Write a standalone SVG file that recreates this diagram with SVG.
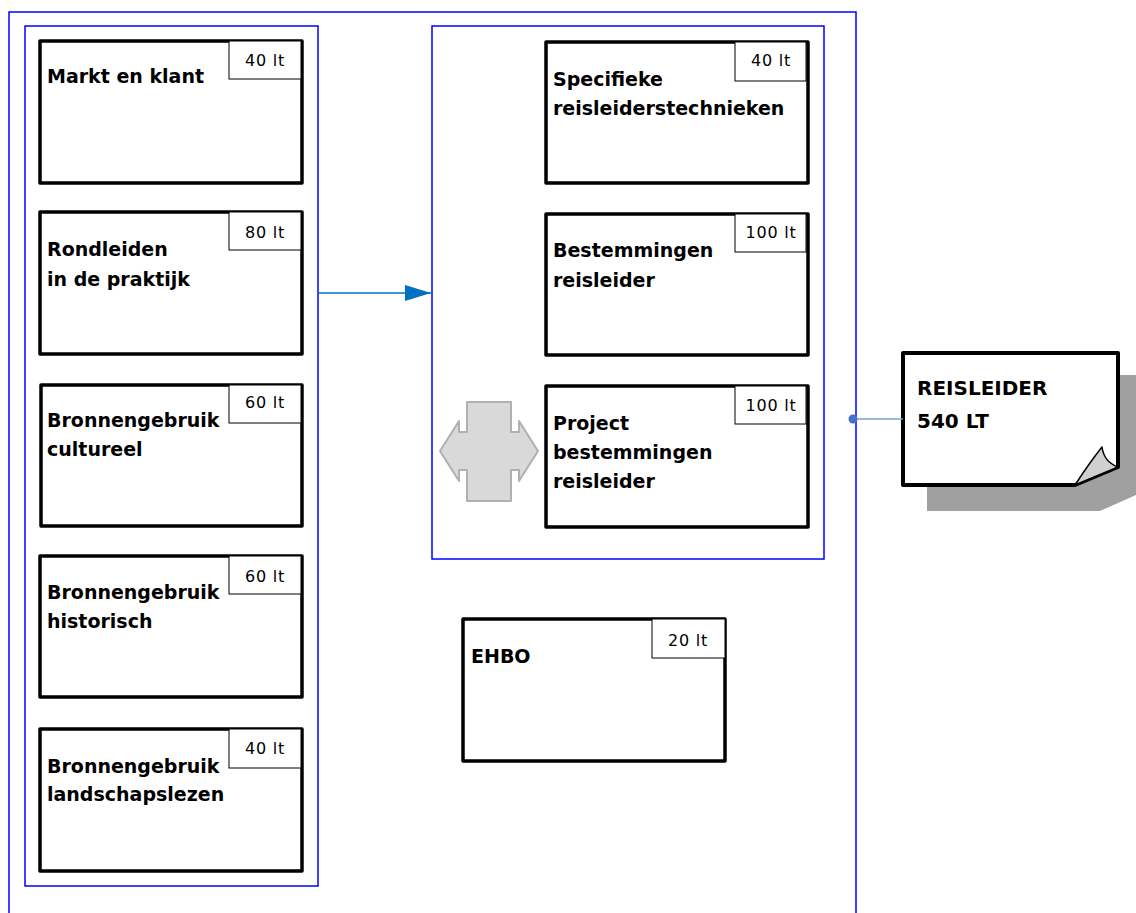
<svg xmlns="http://www.w3.org/2000/svg" width="1136" height="913" viewBox="0 0 1136 913">
<style>
.panel{fill:none;stroke:#0000ff;stroke-width:1.5}
.box{fill:#fff;stroke:#000;stroke-width:3.5;stroke-linejoin:round}
.lbl{fill:#fff;stroke:#000;stroke-width:1}
.t{font-family:"DejaVu Sans","Liberation Sans",sans-serif;font-weight:bold;font-size:19px;fill:#000}
.big{font-size:20px}
.n{font-family:"DejaVu Sans","Liberation Sans",sans-serif;font-size:16px;fill:#000;text-anchor:middle;letter-spacing:0.8px}
</style>
<rect width="1136" height="913" fill="#fff"/>
<g id="outer"><path class="panel" d="M856,913 V12 H9 V913"/></g>
<g id="leftPanel"><rect class="panel" x="25" y="26" width="293" height="860"/></g>
<g id="rightPanel"><rect class="panel" x="432" y="26" width="392" height="533"/></g>

<g id="markt">
<rect class="box" x="40" y="41" width="262" height="142"/>
<rect class="lbl" x="229" y="41" width="72" height="38"/>
<text class="n" x="265" y="66">40 lt</text>
<text class="t" x="47" y="83">Markt en klant</text>
</g>
<g id="rondleiden">
<rect class="box" x="40" y="212" width="262" height="142"/>
<rect class="lbl" x="229" y="212" width="72" height="38"/>
<text class="n" x="265" y="238">80 lt</text>
<text class="t" x="47" y="256">Rondleiden</text>
<text class="t" x="47" y="286">in de praktijk</text>
</g>
<g id="cultureel">
<rect class="box" x="41" y="385" width="261" height="141"/>
<rect class="lbl" x="229" y="385" width="72" height="38"/>
<text class="n" x="265" y="408">60 lt</text>
<text class="t" x="47" y="427">Bronnengebruik</text>
<text class="t" x="47" y="456">cultureel</text>
</g>
<g id="historisch">
<rect class="box" x="40" y="556" width="262" height="141"/>
<rect class="lbl" x="229" y="556" width="72" height="38"/>
<text class="n" x="265" y="582">60 lt</text>
<text class="t" x="47" y="599">Bronnengebruik</text>
<text class="t" x="47" y="628">historisch</text>
</g>
<g id="landschap">
<rect class="box" x="40" y="729" width="262" height="142"/>
<rect class="lbl" x="229" y="729" width="72" height="39"/>
<text class="n" x="265" y="754">40 lt</text>
<text class="t" x="47" y="773">Bronnengebruik</text>
<text class="t" x="47" y="801">landschapslezen</text>
</g>

<g id="specifieke">
<rect class="box" x="546" y="42" width="262" height="141"/>
<rect class="lbl" x="735" y="42" width="71" height="39"/>
<text class="n" x="771" y="66">40 lt</text>
<text class="t" x="553" y="86">Specifieke</text>
<text class="t" x="553" y="115">reisleiderstechnieken</text>
</g>
<g id="bestemmingen">
<rect class="box" x="546" y="214" width="262" height="141"/>
<rect class="lbl" x="735" y="214" width="71" height="38"/>
<text class="n" x="771" y="238">100 lt</text>
<text class="t" x="553" y="257">Bestemmingen</text>
<text class="t" x="553" y="287">reisleider</text>
</g>
<g id="project">
<rect class="box" x="546" y="386" width="262" height="141"/>
<rect class="lbl" x="735" y="386" width="71" height="38"/>
<text class="n" x="771" y="411">100 lt</text>
<text class="t" x="553" y="430">Project</text>
<text class="t" x="553" y="459">bestemmingen</text>
<text class="t" x="553" y="488">reisleider</text>
</g>
<g id="cross">
<polygon points="467,402 511,402 511,432 519,432 519,421 538,451 519,481 519,470 511,470 511,501 467,501 467,470 459,470 459,481 440,451 459,421 459,432 467,432" fill="#d9d9d9" stroke="#b0b0b0" stroke-width="2" stroke-linejoin="round"/>
</g>
<g id="ehbo">
<rect class="box" x="463" y="619" width="262" height="142"/>
<rect class="lbl" x="652" y="619" width="73" height="39"/>
<text class="n" x="688" y="646">20 lt</text>
<text class="t" x="471" y="663">EHBO</text>
</g>

<g id="reisleider">
<path d="M927,375 H1136 V495 L1100,511 H927 z" fill="#a0a0a0"/>
<path d="M903,353 H1118 V467 L1075,485 H903 z" fill="#fff" stroke="#000" stroke-width="4" stroke-linejoin="round"/>
<path d="M1075,485 Q1090,462 1102,447 Q1104,462 1118,467 z" fill="#d0d0d0" stroke="#000" stroke-width="1.5" stroke-linejoin="round"/>
<text class="t big" x="917" y="395">REISLEIDER</text>
<text class="t big" x="917" y="428">540 LT</text>
</g>

<g id="connectors">
<line x1="318" y1="293" x2="431" y2="293" stroke="#0070c0" stroke-width="1.5"/>
<path d="M405,285 L431,293 L405,301 z" fill="#0070c0"/>
<line x1="853" y1="419" x2="903" y2="419" stroke="#7a9fd6" stroke-width="1.5"/>
<circle cx="853" cy="419" r="4.5" fill="#4472c4"/>
</g>
</svg>
